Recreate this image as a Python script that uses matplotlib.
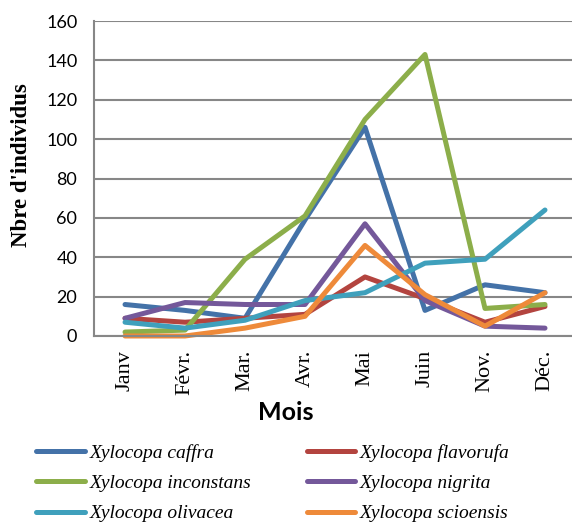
import matplotlib
matplotlib.use("Agg")
import matplotlib.pyplot as plt

months = ['Janv', 'Févr.', 'Mar.', 'Avr.', 'Mai', 'Juin', 'Nov.', 'Déc.']

caffra = [16, 13, 9, 59, 106, 13, 26, 22]
flavorufa = [9, 7, 9, 11, 30, 19, 7, 15]
inconstans = [2, 3, 39, 61, 110, 143, 14, 16]
nigrita = [9, 17, 16, 16, 57, 18, 5, 4]
olivacea = [7, 4, 8, 18, 22, 37, 39, 64]
scioensis = [0, 0, 4, 10, 46, 21, 5, 22]

series = [
    ('Xylocopa caffra', caffra, '#4472A8'),
    ('Xylocopa flavorufa', flavorufa, '#B3443F'),
    ('Xylocopa inconstans', inconstans, '#8CAE4A'),
    ('Xylocopa nigrita', nigrita, '#74589A'),
    ('Xylocopa olivacea', olivacea, '#3FA0BC'),
    ('Xylocopa scioensis', scioensis, '#EE8A3A'),
]

fig = plt.figure(figsize=(5.72, 5.23), dpi=100)
ax = fig.add_axes([94 / 572, 187 / 523, 478 / 572, 315 / 523])

x = list(range(len(months)))
handles = {}
for name, vals, col in series:
    ln, = ax.plot(x, vals, color=col, lw=3.6, solid_capstyle='round',
                  solid_joinstyle='round', clip_on=False, label=name)
    handles[name] = ln

ax.set_xlim(-0.517, 7.45)
ax.set_ylim(0, 160)
ax.set_yticks(range(0, 161, 20))
ax.set_xticks(x)
ax.set_xticklabels(months, rotation=90, family='Liberation Serif', fontsize=16)
for lab in ax.get_yticklabels():
    lab.set_family('Lato')
    lab.set_fontsize(13)
ax.tick_params(axis='x', length=0, pad=10)
ax.tick_params(axis='y', length=0, pad=12)
ax.yaxis.grid(True, color='#878787', lw=1.5)
ax.set_axisbelow(True)
for s in ['top', 'right']:
    ax.spines[s].set_visible(False)
for s in ['left', 'bottom']:
    ax.spines[s].set_color('#878787')
    ax.spines[s].set_linewidth(1.5)

fig.text(22 / 572, 1 - 165 / 523, "Nbre d'individus", rotation=90, ha='center',
         va='center', family='Liberation Serif', fontweight='bold', fontsize=16.5)
fig.text(286 / 572, 1 - 412 / 523, 'Mois', ha='center', va='center',
         family='Lato', fontweight='bold', fontsize=18)

order = ['Xylocopa caffra', 'Xylocopa inconstans', 'Xylocopa olivacea',
         'Xylocopa flavorufa', 'Xylocopa nigrita', 'Xylocopa scioensis']
leg = fig.legend([handles[n] for n in order], order, ncol=2, loc='upper left',
                 bbox_to_anchor=(36 / 572, 1 - 444 / 523), frameon=False,
                 prop={'family': 'Liberation Serif', 'style': 'italic', 'size': 14},
                 handlelength=2.5, handletextpad=0.25, columnspacing=2.85,
                 labelspacing=0.65, borderaxespad=0, borderpad=0)

fig.savefig('out.png', dpi=100)
